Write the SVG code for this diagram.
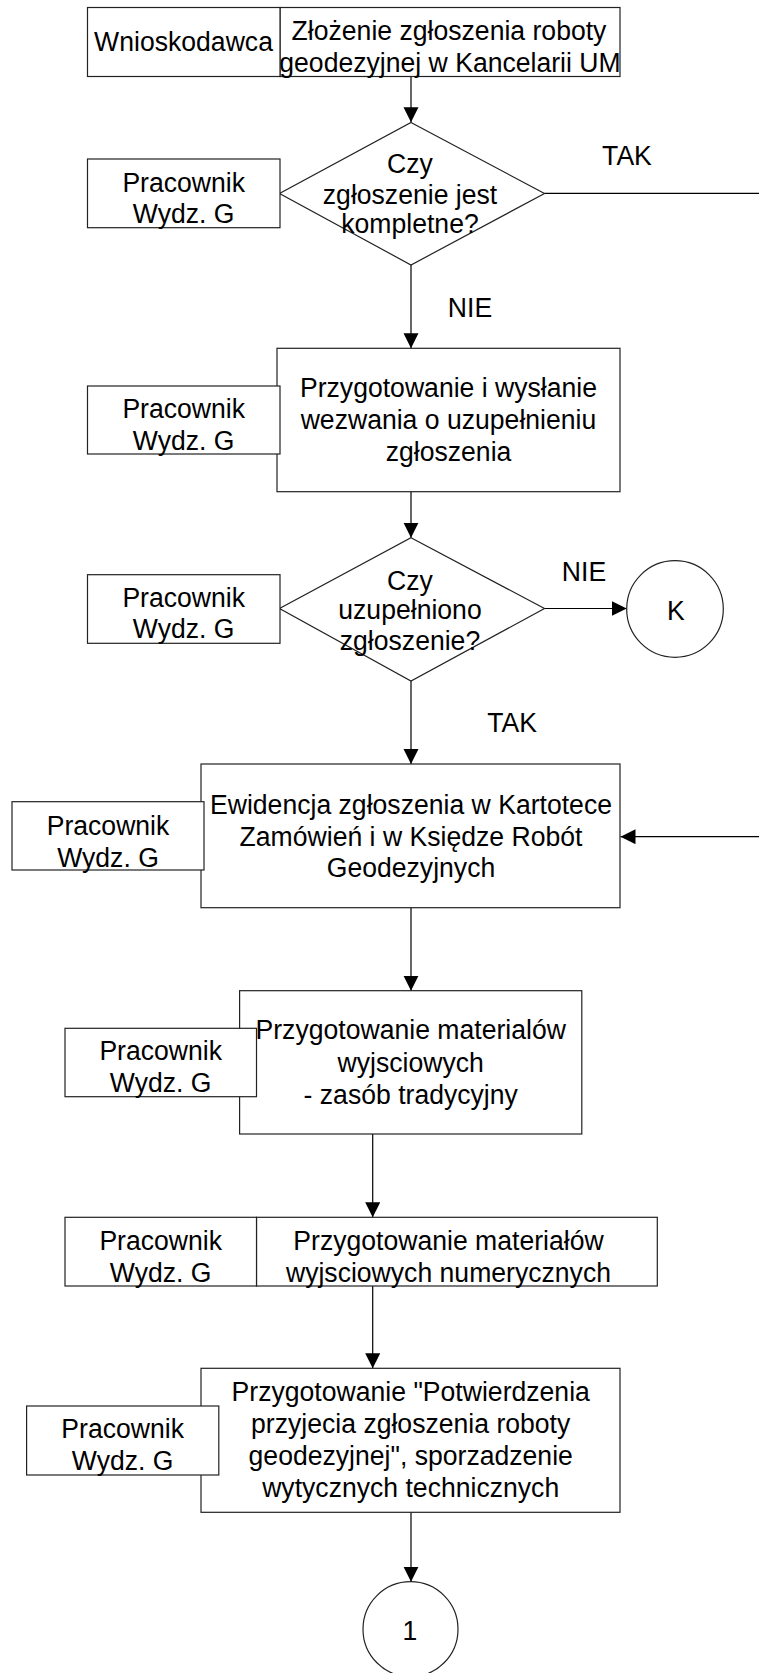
<svg xmlns="http://www.w3.org/2000/svg" width="759" height="1673" viewBox="0 0 759 1673">
<style>
.box{fill:#fff;stroke:#222;stroke-width:1.2}
.t{font-family:"Liberation Sans",Arial,sans-serif;font-size:28px;fill:#000;text-anchor:middle;transform-box:fill-box;transform-origin:center;transform:scaleX(0.95)}
.c{fill:none;stroke:#000;stroke-width:1.2}
</style>
<defs>
<marker id="arr" markerUnits="userSpaceOnUse" markerWidth="16" markerHeight="16" refX="15" refY="7.5" orient="auto">
<path d="M0,0 L15,7.5 L0,15 z" fill="#000"/>
</marker>
</defs>
<rect width="759" height="1673" fill="#fff"/>
<g id="connectors">
<path class="c" d="M411,76.7 V122.3" marker-end="url(#arr)"/>
<path class="c" d="M544.5,193.3 H765 V836.7 H620.5" marker-end="url(#arr)"/>
<path class="c" d="M411,265 V348.3" marker-end="url(#arr)"/>
<path class="c" d="M411,491.7 V537.7" marker-end="url(#arr)"/>
<path class="c" d="M544.5,608.5 H626.7" marker-end="url(#arr)"/>
<path class="c" d="M411,681 V764" marker-end="url(#arr)"/>
<path class="c" d="M411,907.7 V990.7" marker-end="url(#arr)"/>
<path class="c" d="M372.7,1134 V1217.3" marker-end="url(#arr)"/>
<path class="c" d="M372.7,1286 V1368.3" marker-end="url(#arr)"/>
<path class="c" d="M411,1512.3 V1581.7" marker-end="url(#arr)"/>
<text class="t" x="627" y="165">TAK</text>
<text class="t" x="470" y="317">NIE</text>
<text class="t" x="584" y="581">NIE</text>
<text class="t" x="512" y="732">TAK</text>
</g>
<g id="n1">
<rect class="box" x="280" y="7.5" width="340" height="69"/>
<text class="t" x="449" y="40">Złożenie zgłoszenia roboty</text>
<text class="t" x="450" y="72">geodezyjnej w Kancelarii UM</text>
</g>
<g id="a1">
<rect class="box" x="87.5" y="7.5" width="192.5" height="69"/>
<text class="t" x="183.5" y="50.7">Wnioskodawca</text>
</g>
<g id="d1">
<polygon class="box" points="411,122.5 544.5,193.5 411,265 279.5,193.5"/>
<text class="t" x="410" y="173.3">Czy</text>
<text class="t" x="410" y="204">zgłoszenie jest</text>
<text class="t" x="410" y="233.3">kompletne?</text>
</g>
<g id="a2">
<rect class="box" x="87.5" y="159" width="192.5" height="68.7"/>
<text class="t" x="183.7" y="191.7">Pracownik</text>
<text class="t" x="183.7" y="223.5">Wydz. G</text>
</g>
<g id="n2">
<rect class="box" x="277" y="348.3" width="343" height="143.4"/>
<text class="t" x="448.5" y="397">Przygotowanie i wysłanie</text>
<text class="t" x="448.5" y="429">wezwania o uzupełnieniu</text>
<text class="t" x="448.5" y="461">zgłoszenia</text>
</g>
<g id="a3">
<rect class="box" x="87.5" y="386" width="192.5" height="68"/>
<text class="t" x="183.7" y="418.3">Pracownik</text>
<text class="t" x="183.7" y="450">Wydz. G</text>
</g>
<g id="d2">
<polygon class="box" points="411,537.7 544.5,608.5 411,681 279.5,608.5"/>
<text class="t" x="410" y="590">Czy</text>
<text class="t" x="410" y="619.3">uzupełniono</text>
<text class="t" x="410" y="650">zgłoszenie?</text>
</g>
<g id="a4">
<rect class="box" x="87.5" y="574.7" width="192.5" height="68.6"/>
<text class="t" x="183.7" y="607.3">Pracownik</text>
<text class="t" x="183.7" y="638.5">Wydz. G</text>
</g>
<g id="k">
<circle class="box" cx="675" cy="609" r="48.3"/>
<text class="t" x="676" y="620">K</text>
</g>
<g id="n3">
<rect class="box" x="201" y="764" width="419" height="143.7"/>
<text class="t" x="411" y="814">Ewidencja zgłoszenia w Kartotece</text>
<text class="t" x="411" y="846">Zamówień i w Księdze Robót</text>
<text class="t" x="411" y="877.5">Geodezyjnych</text>
</g>
<g id="a5">
<rect class="box" x="12" y="801.7" width="192" height="68.3"/>
<text class="t" x="108" y="835">Pracownik</text>
<text class="t" x="108" y="866.7">Wydz. G</text>
</g>
<g id="n4">
<rect class="box" x="239.6" y="990.7" width="342.2" height="143.3"/>
<text class="t" x="410.7" y="1039.3">Przygotowanie materialów</text>
<text class="t" x="410.7" y="1071.7">wyjsciowych</text>
<text class="t" x="410.7" y="1104">- zasób tradycyjny</text>
</g>
<g id="a6">
<rect class="box" x="65" y="1028.3" width="191.5" height="68.4"/>
<text class="t" x="160.7" y="1060">Pracownik</text>
<text class="t" x="160.7" y="1092.5">Wydz. G</text>
</g>
<g id="n5">
<rect class="box" x="256.5" y="1217.3" width="400.8" height="68.7"/>
<text class="t" x="448.5" y="1250">Przygotowanie materiałów</text>
<text class="t" x="448.5" y="1281.7">wyjsciowych numerycznych</text>
</g>
<g id="a7">
<rect class="box" x="65" y="1217.3" width="191.5" height="68.7"/>
<text class="t" x="160.7" y="1250">Pracownik</text>
<text class="t" x="160.7" y="1281.7">Wydz. G</text>
</g>
<g id="n6">
<rect class="box" x="201" y="1368.3" width="419" height="144"/>
<text class="t" x="410.7" y="1401.5">Przygotowanie "Potwierdzenia</text>
<text class="t" x="410.7" y="1433.5">przyjecia zgłoszenia roboty</text>
<text class="t" x="410.7" y="1465.5">geodezyjnej", sporzadzenie</text>
<text class="t" x="410.7" y="1497.5">wytycznych technicznych</text>
</g>
<g id="a8">
<rect class="box" x="26.6" y="1406" width="192.2" height="69"/>
<text class="t" x="122.7" y="1438.3">Pracownik</text>
<text class="t" x="122.7" y="1470">Wydz. G</text>
</g>
<g id="one">
<circle class="box" cx="410.5" cy="1629.2" r="47.5"/>
<text class="t" x="410" y="1640">1</text>
</g>
</svg>
